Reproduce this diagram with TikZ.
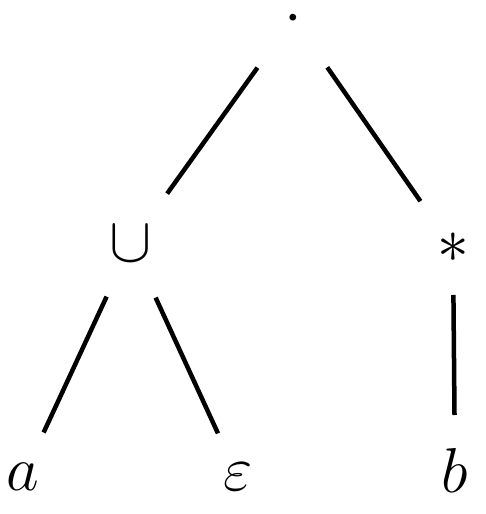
\documentclass[tikz,border=0pt]{standalone}
\begin{document}
\begin{tikzpicture}[x=1pt,y=1pt,
  sym/.style={inner sep=0pt,font=\Huge,scale=2.55},
  edge/.style={line width=4.5pt}]
\useasboundingbox (0,0) rectangle (485,514);
\node[sym, anchor=base] (root) at (293,480) {$\smash{\cdot}$};
\coordinate (rootc) at ([yshift=15.9pt]root.base);
\node[sym] (cup) at (131,270) {$\cup$};
\node[sym] (star) at (453,266) {$\ast$};
\node[sym] (a) at (23,37) {$a$};
\node[sym] (eps) at (238,37) {$\varepsilon$};
\node[sym] (b) at (455,44) {$b$};
\draw[edge, shorten <=61pt, shorten >=62pt] (rootc) -- (cup.center);
\draw[edge, shorten <=60pt, shorten >=57pt] (rootc) -- (star.center);
\draw[edge, shorten <=58pt, shorten >=49pt] (cup.center) -- (a.center);
\draw[edge, shorten <=59pt, shorten >=48pt] (cup.center) -- (eps.center);
\draw[edge, shorten <=47pt, shorten >=55pt] (star.center) -- (b.center);
\end{tikzpicture}
\end{document}
